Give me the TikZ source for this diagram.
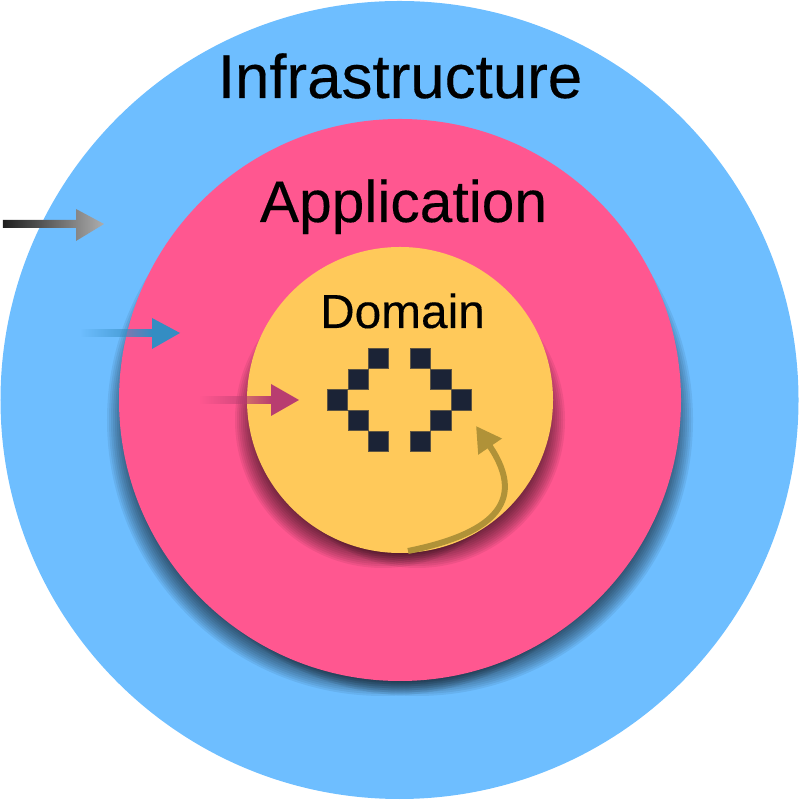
\documentclass[tikz,border=0pt]{standalone}
\usepackage{fontspec}
\newfontfamily\labelfont[FakeBold=0.25]{Liberation Sans}
\usetikzlibrary{arrows.meta,fadings}
\definecolor{infra}{HTML}{6EBEFF}
\definecolor{appl}{HTML}{FF5790}
\definecolor{domn}{HTML}{FFC95A}
\definecolor{pixel}{HTML}{1B2336}
\definecolor{bluearrow}{HTML}{348DC3}
\definecolor{pinkarrow}{HTML}{B83D70}
\definecolor{goldarrow}{HTML}{B09238}
\tikzfading[name=shaftfade,left color=transparent!100,middle color=transparent!0,right color=transparent!0]
\tikzset{
    layerlabel/.style={anchor=base,text=black,inner sep=0pt},
    shadowlayer/.style={black,opacity=0.065},
    pixelbox/.style={fill=pixel,draw=pixel!70!domn,line width=0.15pt},
}
\begin{document}
\begin{tikzpicture}
    \useasboundingbox (0,0) rectangle (7.99,8);
    % outer ring
    \fill[infra] (3.995,4) circle (3.99);
    % soft shadow below the middle ring
    \foreach \sx in {-0.17,0.17}
        \foreach \d in {-0.13,-0.11,...,0.13}
            \fill[shadowlayer] (4+\sx,3.80) circle (2.65+\d);
    \fill[appl] (4,4) circle (2.81);
    % soft shadow below the inner ring
    \foreach \sx in {-0.17,0.17}
        \foreach \d in {-0.13,-0.11,...,0.13}
            \fill[shadowlayer] (4+\sx,3.80) circle (1.37+\d);
    \fill[domn] (4,4) circle (1.53);
    \node[layerlabel,font=\labelfont\fontsize{17.6}{20}\selectfont] (infralabel) at (4,7.02) {Infrastructure};
    \node[layerlabel,font=\labelfont\fontsize{16.7}{20}\selectfont] (appllabel) at (4.035,5.78) {Application};
    \node[layerlabel,font=\labelfont\fontsize{13.6}{16}\selectfont] (domnlabel) at (4.025,4.72) {Domain};
    % chevrons made of squares
    \foreach \x/\y in {3.68/4.52,4.10/4.52,3.48/4.31,4.305/4.31,3.27/4.105,4.51/4.105,3.48/3.90,4.305/3.90,3.68/3.69,4.10/3.69}
        \fill[pixelbox] (\x,\y) rectangle ++(0.207,-0.207);
    % incoming arrows
    \shade[left color=black!88,right color=black!32]
        (0.03,5.80) -- (0.76,5.80) -- (0.76,5.91) -- (1.04,5.76) -- (0.76,5.59) -- (0.76,5.72) -- (0.03,5.72) -- cycle;
    \fill[bluearrow,path fading=shaftfade] (0.80,4.71) rectangle (1.52,4.63);
    \fill[bluearrow] (1.52,4.82) -- (1.80,4.67) -- (1.52,4.51) -- cycle;
    \fill[pinkarrow,path fading=shaftfade] (2.00,4.04) rectangle (2.71,3.96);
    \fill[pinkarrow] (2.71,4.16) -- (2.99,4.00) -- (2.71,3.84) -- cycle;
    % curved arrow inside the inner ring
    \coordinate (curvestart) at (4.08,2.49);
    \coordinate (curveend) at (4.76,3.74);
    \draw[goldarrow,line width=0.06cm,-{Triangle[length=0.25cm,width=0.27cm]}]
        (curvestart) .. controls (4.87,2.65) and (5.30,2.95) .. (curveend);
\end{tikzpicture}
\end{document}
